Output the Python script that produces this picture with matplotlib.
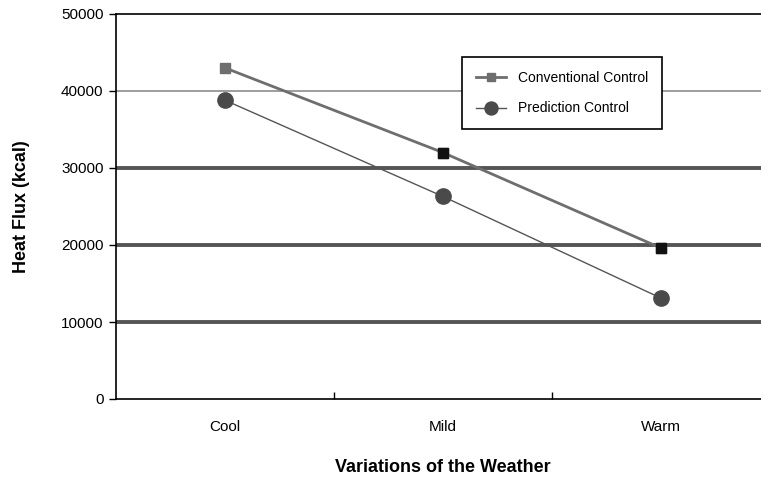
import matplotlib
matplotlib.use("Agg")
import matplotlib.pyplot as plt
from matplotlib.ticker import FixedLocator, NullFormatter

# data
categories = ["Cool", "Mild", "Warm"]
conventional = [43000, 32000, 19600]
prediction = [38800, 26300, 13100]

plt.rcParams['font.family'] = ['Liberation Sans', 'DejaVu Sans']

fig = plt.figure(figsize=(7.61, 4.82), dpi=100)
# right edge of the axes runs past the figure like the reference
ax = fig.add_axes([116 / 761, 83 / 482, 654 / 761, 385 / 482])

x = list(range(len(categories)))
ax.set_xlim(-0.5, 2.5)
ax.set_ylim(0, 50000)

# horizontal grid lines: thin one at 40000, heavy ones below
ax.axhline(40000, color='#8c8c8c', lw=1.2, zorder=1)
for yv in [10000, 20000, 30000]:
    ax.axhline(yv, color='#555555', lw=2.8, zorder=1)

ax.plot(x, conventional, color='#6e6e6e', lw=2, zorder=3,
        marker='s', markersize=7, markerfacecolor='#6e6e6e', markeredgecolor='#6e6e6e',
        label='Conventional Control')
# last two squares are black in the reference
ax.plot(x[1:], conventional[1:], ls='none', marker='s', markersize=7,
        color='#111111', zorder=4)
ax.plot(x, prediction, color='#555555', lw=1, zorder=3,
        marker='o', markersize=11, markerfacecolor='#4a4a4a', markeredgecolor='#4a4a4a',
        label='Prediction Control')

ax.set_yticks(range(0, 50001, 10000))
ax.tick_params(axis='y', direction='out', length=5, width=1, labelsize=11, pad=4)
ax.xaxis.set_major_locator(FixedLocator(x))
ax.xaxis.set_minor_locator(FixedLocator([0.5, 1.5]))
ax.xaxis.set_minor_formatter(NullFormatter())
ax.set_xticklabels(categories, fontsize=11)
ax.tick_params(axis='x', which='major', length=0, pad=15)
ax.tick_params(axis='x', which='minor', direction='in', length=5, width=1)

ax.spines['right'].set_visible(False)
for s in ['left', 'bottom', 'top']:
    ax.spines[s].set_linewidth(1.2)

ax.set_ylabel('Heat Flux (kcal)', fontsize=13, fontweight='bold', labelpad=22)
ax.set_xlabel('Variations of the Weather', fontsize=13, fontweight='bold', labelpad=18)

leg = ax.legend(loc='upper left', bbox_to_anchor=((455 - 116) / 654, (399 - 50) / 385),
                fontsize=10, frameon=True, fancybox=False, framealpha=1,
                edgecolor='black', handlelength=2.2, borderpad=1.0, labelspacing=1.2,
                markerscale=0.85)
leg.get_frame().set_linewidth(1.2)
leg.set_zorder(5)

fig.savefig('out.png', dpi=100)
